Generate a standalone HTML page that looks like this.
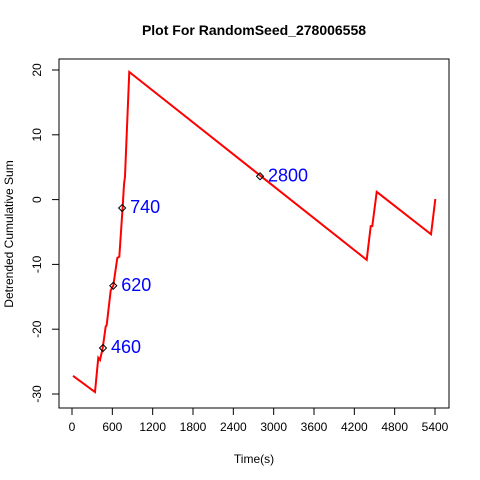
<!DOCTYPE html>
<html><head><meta charset="utf-8"><style>body{margin:0;background:#fff}svg{display:block;font-family:"Liberation Sans",sans-serif}</style></head>
<body>
<svg id="c" width="480" height="480">
<text x="254" y="35" text-anchor="middle" font-size="14" font-weight="bold">Plot For RandomSeed_278006558</text>
<rect x="59" y="59" width="390" height="349" fill="none" stroke="#000"/>
<text x="254" y="463" text-anchor="middle" font-size="12">Time(s)</text>
<text transform="translate(13,234) rotate(-90)" text-anchor="middle" font-size="12">Detrended Cumulative Sum</text>
<g id="ax"></g>
</svg>
<script>
const times=[15,342,391,417,457,501,516,576,614,674,704,754,774,788,852,4384,4444,4467,4533,5341,5405];
const values=[-27.2,-29.7,-24.4,-24.75,-22.9,-19.6,-19.35,-14.0,-13.3,-9.0,-8.8,-1.1,2.4,3.5,19.7,-9.3,-4.1,-4.1,1.2,-5.35,0.1];
const markT=[461,614,746,2797];
const markV=[-22.9,-13.3,-1.3,3.6];
const markLabels=["460","620","740","2800"];
const xTicks=[0,600,1200,1800,2400,3000,3600,4200,4800,5400];
const yTicks=[-30,-20,-10,0,10,20];
const X=t=>72+t*(363/5400);
const Y=v=>394-(v+30)*6.48;
const NS="http://www.w3.org/2000/svg";
const g=document.getElementById('ax');
function mk(tag,attrs,txt){const e=document.createElementNS(NS,tag);for(const k in attrs)e.setAttribute(k,attrs[k]);if(txt!==undefined)e.textContent=txt;g.appendChild(e);return e;}
let a=mk('line',{x1:X(0),x2:X(5400),y1:408,y2:408,stroke:'#000'});


xTicks.forEach(t=>{
 const l=mk('line',{x1:X(t),x2:X(t),y1:408,y2:415,stroke:'#000'});
 
 
 const s=mk('text',{x:X(t),y:431,'text-anchor':'middle','font-size':12},String(t));
 
 
});
let b=mk('line',{x1:59,x2:59,y1:Y(-30),y2:Y(20),stroke:'#000'});


yTicks.forEach(v=>{
 const l=mk('line',{x1:52,x2:59,y1:Y(v),y2:Y(v),stroke:'#000'});
 
 
 const s=mk('text',{transform:`translate(41,${Y(v)}) rotate(-90)`,'text-anchor':'middle','font-size':12},String(v));
 
 
});
const p=mk('polyline',{points:times.map((t,i)=>X(t)+','+Y(values[i])).join(' '),fill:'none',stroke:'#f00','stroke-width':2});


markT.forEach((t,i)=>{
 const x=X(t),y=Y(markV[i]);
 const m=mk('polygon',{points:`${x},${y-3.5} ${x+3.5},${y} ${x},${y+3.5} ${x-3.5},${y}`,fill:'none',stroke:'#000'});
 
 
 const s=mk('text',{x:x+8,y:y+5,'font-size':18,fill:'#00f'},markLabels[i]);
 
 
});
</script>
</body></html>
